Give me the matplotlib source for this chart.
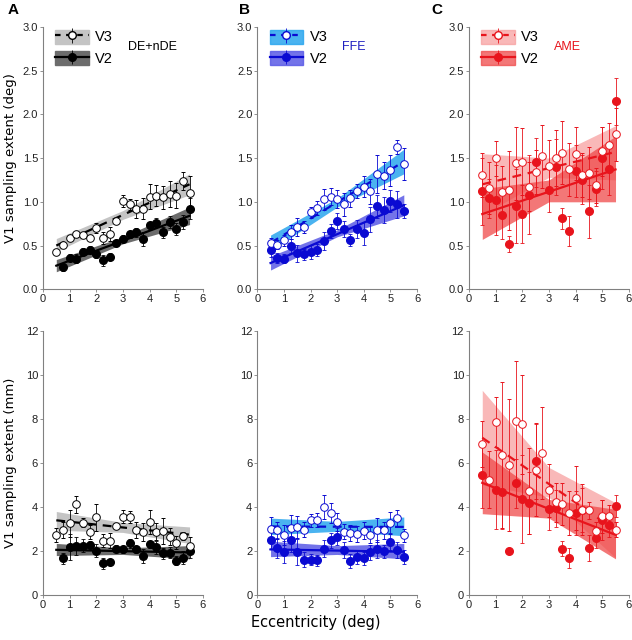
import numpy as np
import matplotlib
matplotlib.use('Agg')
import matplotlib.pyplot as plt
from matplotlib.patches import Patch
from matplotlib.legend_handler import HandlerTuple

plt.rcParams['font.family'] = ['Liberation Sans', 'DejaVu Sans']

ecc = np.arange(0.5, 5.51, 0.25)
nan = np.nan

# ---- top row: sampling extent in deg ----
a_top_v3 = [0.43, 0.51, 0.59, 0.63, 0.62, 0.59, 0.70, 0.59, 0.63, 0.78, 1.01, 0.97, 0.92, 0.92, 1.06, 1.07, 1.05, 1.09, 1.07, 1.24, 1.10]
a_top_v3_err = [0.03, 0.03, 0.03, 0.03, 0.03, 0.03, 0.06, 0.07, 0.08, 0.03, 0.07, 0.06, 0.10, 0.12, 0.14, 0.12, 0.13, 0.15, 0.14, 0.10, 0.20]
a_top_v2 = [nan, 0.25, 0.36, 0.35, 0.43, 0.45, 0.40, 0.33, 0.37, 0.53, 0.58, 0.63, 0.65, 0.57, 0.73, 0.76, 0.65, 0.77, 0.69, 0.77, 0.92]
a_top_v2_err = [0.04, 0.04, 0.04, 0.05, 0.04, 0.04, 0.04, 0.06, 0.04, 0.03, 0.04, 0.04, 0.05, 0.08, 0.04, 0.05, 0.06, 0.07, 0.07, 0.08, 0.12]

b_top_v3 = [0.53, 0.51, 0.56, 0.65, 0.71, 0.71, 0.88, 0.93, 1.03, 1.06, 1.03, 0.97, 1.04, 1.12, 1.17, 1.12, 1.32, 1.30, 1.36, 1.63, 1.43]
b_top_v3_err = [0.06, 0.05, 0.06, 0.08, 0.10, 0.07, 0.06, 0.08, 0.12, 0.10, 0.10, 0.13, 0.10, 0.08, 0.12, 0.14, 0.22, 0.15, 0.18, 0.08, 0.18]
b_top_v2 = [0.45, 0.36, 0.35, 0.49, 0.41, 0.40, 0.43, 0.45, 0.55, 0.67, 0.78, 0.69, 0.56, 0.69, 0.64, 0.80, 0.95, 0.91, 1.01, 0.97, 0.89]
b_top_v2_err = [0.08, 0.06, 0.05, 0.08, 0.10, 0.06, 0.08, 0.07, 0.10, 0.08, 0.09, 0.09, 0.07, 0.10, 0.13, 0.14, 0.13, 0.15, 0.13, 0.15, 0.08]

c_top_v3 = [1.31, 1.16, 1.50, 1.11, 1.13, 1.44, 1.46, 1.17, 1.34, 1.52, 1.41, 1.50, 1.56, 1.37, 1.55, 1.31, 1.33, 1.19, 1.58, 1.65, 1.77]
c_top_v3_err = [0.25, 0.30, 0.20, 0.30, 0.45, 0.42, 0.38, 0.28, 0.25, 0.36, 0.30, 0.32, 0.36, 0.30, 0.30, 0.25, 0.30, 0.20, 0.28, 0.25, 0.30]
c_top_v2 = [1.12, 1.04, 1.02, 0.85, 0.52, 0.95, 0.86, 1.08, 1.45, nan, 1.13, 1.40, 0.81, 0.67, 1.35, 1.25, 0.89, 1.15, 1.50, 1.38, 2.15]
c_top_v2_err = [0.38, 0.22, 0.40, 0.28, 0.09, 0.42, 0.33, 0.45, 0.28, 0.30, 0.25, 0.32, 0.12, 0.17, 0.30, 0.28, 0.30, 0.20, 0.35, 0.30, 0.27]

# fitted lines (value at ecc 0.5 and 5.5) and bands (lower/upper at 0.5, 3.0, 5.5)
band_x = [0.5, 3.0, 5.5]
a_top_fit = {'v3': (0.50, 1.20), 'v2': (0.27, 0.84)}
a_top_band_v3 = ([0.43, 0.80, 1.08], [0.58, 0.90, 1.32])
a_top_band_v2 = ([0.20, 0.52, 0.74], [0.34, 0.60, 0.94])
b_top_fit = {'v3': (0.53, 1.46), 'v2': (0.30, 0.96)}
b_top_band_v3 = ([0.44, 0.94, 1.32], [0.62, 1.04, 1.60])
b_top_band_v2 = ([0.22, 0.60, 0.84], [0.38, 0.68, 1.08])
c_top_fit = {'v3': (1.20, 1.57), 'v2': (0.86, 1.37)}
c_top_band_v3 = ([0.85, 1.28, 1.25], [1.55, 1.50, 1.87])
c_top_band_v2 = ([0.57, 1.00, 1.00], [1.15, 1.25, 1.75])

# ---- bottom row: sampling extent in mm ----
a_bot_v3 = [2.73, 2.96, 3.26, 4.12, 3.29, 2.87, 3.53, 2.48, 2.48, 3.14, 3.56, 3.55, 2.96, 2.87, 3.31, 2.89, 2.92, 2.66, 2.39, 2.69, 2.25]
a_bot_v3_err = [0.30, 0.35, 0.60, 0.40, 0.20, 0.30, 0.60, 0.30, 0.35, 0.15, 0.30, 0.25, 0.35, 0.40, 0.55, 0.40, 0.60, 0.40, 0.30, 0.20, 0.40]
a_bot_v2 = [nan, 1.68, 2.18, 2.24, 2.24, 2.27, 2.02, 1.45, 1.51, 2.11, 2.08, 2.36, 2.08, 1.78, 2.31, 2.18, 1.90, 1.93, 1.56, 1.71, 2.01]
a_bot_v2_err = [0.20, 0.25, 0.60, 0.40, 0.30, 0.20, 0.30, 0.25, 0.15, 0.15, 0.15, 0.20, 0.15, 0.30, 0.15, 0.30, 0.25, 0.25, 0.20, 0.30, 0.30]

b_bot_v3 = [3.00, 2.94, 2.72, 3.07, 3.10, 2.97, 3.40, 3.41, 4.02, 3.73, 3.31, 2.88, 2.82, 2.78, 2.93, 2.73, 2.97, 2.94, 3.26, 3.49, 2.72]
b_bot_v3_err = [0.55, 0.40, 0.45, 0.55, 0.50, 0.35, 0.30, 0.30, 0.55, 0.45, 0.40, 0.35, 0.35, 0.35, 0.40, 0.35, 0.55, 0.40, 0.50, 0.40, 0.30]
b_bot_v2 = [2.52, 2.14, 1.97, 2.52, 1.96, 1.62, 1.62, 1.59, 2.12, 2.49, 2.66, 2.05, 1.55, 1.73, 1.67, 1.94, 2.09, 2.00, 2.43, 2.06, 1.73]
b_bot_v2_err = [0.40, 0.45, 0.50, 0.55, 0.60, 0.35, 0.25, 0.25, 0.40, 0.35, 0.40, 0.35, 0.30, 0.30, 0.30, 0.35, 0.40, 0.30, 0.40, 0.35, 0.30]

c_bot_v3 = [6.88, 5.24, 7.86, 6.36, 5.91, 7.91, 7.76, 4.73, 5.70, 6.45, 4.77, 4.21, 4.15, 3.73, 4.42, 3.88, 3.85, 2.92, 3.58, 3.58, 2.97]
c_bot_v3_err = [1.05, 1.30, 1.15, 3.30, 3.00, 2.70, 2.25, 1.95, 2.10, 2.10, 1.20, 0.90, 0.95, 1.00, 1.45, 1.15, 0.40, 0.40, 0.75, 0.50, 0.35]
c_bot_v2 = [5.44, nan, 4.79, 4.70, 2.00, 5.08, 4.38, 4.18, 6.08, nan, 3.91, 3.94, 2.11, 1.68, 3.73, 3.85, 2.14, 2.61, 3.42, 3.18, 4.03]
c_bot_v2_err = [1.50, 1.30, 1.80, 1.70, 0.00, 1.10, 2.00, 1.40, 1.70, 1.50, 0.95, 0.85, 0.35, 0.45, 1.00, 1.00, 0.60, 0.45, 0.90, 0.55, 0.50]

a_bot_fit = {'v3': (3.40, 2.75), 'v2': (2.06, 1.94)}
a_bot_band_v3 = ([2.95, 2.85, 2.35], [3.80, 3.30, 3.10])
a_bot_band_v2 = ([1.80, 1.85, 1.65], [2.35, 2.15, 2.25])
b_bot_fit = {'v3': (3.12, 3.10), 'v2': (2.08, 1.97)}
b_bot_band_v3 = ([2.75, 2.90, 2.70], [3.50, 3.35, 3.55])
b_bot_band_v2 = ([1.75, 1.85, 1.65], [2.45, 2.25, 2.35])
c_bot_fit = {'v3': (7.15, 2.95), 'v2': (5.10, 2.74)}
c_bot_band_v3 = ([5.00, 4.45, 1.70], [9.30, 5.80, 4.20])
c_bot_band_v2 = ([3.70, 3.50, 1.65], [6.50, 4.35, 3.90])

conditions = ['DE+nDE', 'FFE', 'AME']
letters = ['A', 'B', 'C']
line_colors = ['#000000', '#0a0ad2', '#e8141c']
cond_colors = ['#000000', '#2020c0', '#e8141c']
band3_colors = ['#c4c4c4', '#2aa6ee', '#f7a0a0']
band2_colors = ['#6c6c6c', '#5a5ae6', '#ef4a4a']
band_alpha = [1.0, 0.85, 0.75]

top_data = [
    (a_top_v3, a_top_v3_err, a_top_v2, a_top_v2_err, a_top_fit, a_top_band_v3, a_top_band_v2),
    (b_top_v3, b_top_v3_err, b_top_v2, b_top_v2_err, b_top_fit, b_top_band_v3, b_top_band_v2),
    (c_top_v3, c_top_v3_err, c_top_v2, c_top_v2_err, c_top_fit, c_top_band_v3, c_top_band_v2),
]
bot_data = [
    (a_bot_v3, a_bot_v3_err, a_bot_v2, a_bot_v2_err, a_bot_fit, a_bot_band_v3, a_bot_band_v2),
    (b_bot_v3, b_bot_v3_err, b_bot_v2, b_bot_v2_err, b_bot_fit, b_bot_band_v3, b_bot_band_v2),
    (c_bot_v3, c_bot_v3_err, c_bot_v2, c_bot_v2_err, c_bot_fit, c_bot_band_v3, c_bot_band_v2),
]

fig = plt.figure(figsize=(6.32, 6.4), dpi=100)
lefts = [0.068, 0.407, 0.742]
width = 0.253
letter_x = [0.012, 0.378, 0.683]


def style_axes(ax, ymax, ystep, fmt):
    ax.set_xlim(0, 6)
    ax.set_ylim(0, ymax)
    ax.set_xticks(range(7))
    ax.set_yticks(np.arange(0, ymax + 0.001, ystep))
    ax.yaxis.set_major_formatter(matplotlib.ticker.FormatStrFormatter(fmt))
    for s in ['top', 'right']:
        ax.spines[s].set_visible(False)
    for s in ['left', 'bottom']:
        ax.spines[s].set_color('#808080')
        ax.spines[s].set_linewidth(0.8)
    ax.tick_params(direction='out', length=2, width=0.6, color='#808080',
                   labelsize=8, labelcolor='#222222', pad=1.5)


def draw(ax, i, data):
    v3, v3e, v2, v2e, fit, b3, b2 = data
    lc = line_colors[i]
    ax.fill_between(band_x, b3[0], b3[1], color=band3_colors[i], alpha=band_alpha[i], lw=0, zorder=1)
    ax.fill_between(band_x, b2[0], b2[1], color=band2_colors[i], alpha=band_alpha[i], lw=0, zorder=1.1)
    ax.plot([0.5, 5.5], fit['v3'], ls=(0, (4, 3)), color=lc, lw=1.6, zorder=2)
    ax.plot([0.5, 5.5], fit['v2'], ls='-', color=lc, lw=1.6, zorder=2)
    ax.errorbar(ecc, v2, yerr=v2e, fmt='o', ms=5.5, mfc=lc, mec=lc, ecolor=lc,
                elinewidth=0.6, capsize=1.2, capthick=0.6, zorder=3)
    ax.errorbar(ecc, v3, yerr=v3e, fmt='o', ms=5.5, mfc='white', mec=lc, mew=0.7, ecolor=lc,
                elinewidth=0.6, capsize=1.2, capthick=0.6, zorder=4)


for i in range(3):
    ax = fig.add_axes([lefts[i], 0.548, width, 0.41])
    draw(ax, i, top_data[i])
    style_axes(ax, 3.0, 0.5, '%.1f')
    lc = line_colors[i]
    # legend handles: band + line + marker with error bar
    h3 = (Patch(color=band3_colors[i], alpha=band_alpha[i]),
          matplotlib.lines.Line2D([], [], color=lc, ls=(0, (2.5, 2.5)), lw=1.6),
          ax.errorbar([], [], yerr=[], fmt='o', ms=5.5, mfc='white', mec=lc, ecolor=lc,
                      elinewidth=0.6, capsize=1.2))
    h2 = (Patch(color=band2_colors[i], alpha=band_alpha[i]),
          matplotlib.lines.Line2D([], [], color=lc, ls='-', lw=1.6),
          ax.errorbar([], [], yerr=[], fmt='o', ms=5.5, mfc=lc, mec=lc, ecolor=lc,
                      elinewidth=0.6, capsize=1.2))
    ax.legend([h3, h2], ['V3', 'V2'], handler_map={tuple: HandlerTuple(ndivide=1)},
              loc='upper left', bbox_to_anchor=(-0.005, 1.04), frameon=False, fontsize=10.5,
              handlelength=2.3, handleheight=1.1, handletextpad=0.45, labelspacing=0.45)
    ax.text(0.53, 0.925, conditions[i], transform=ax.transAxes, fontsize=9,
            color=cond_colors[i], ha='left', va='center')
    if i == 0:
        ax.set_ylabel('V1 sampling extent (deg)', family='DejaVu Sans', fontsize=9.5)
        ax.yaxis.set_label_coords(-0.165, 0.5)
    fig.text(letter_x[i], 0.995, letters[i], fontsize=11, fontweight='bold',
             ha='left', va='top')

for i in range(3):
    ax = fig.add_axes([lefts[i], 0.070, width, 0.413])
    draw(ax, i, bot_data[i])
    style_axes(ax, 12, 2, '%d')
    if i == 0:
        ax.set_ylabel('V1 sampling extent (mm)', family='DejaVu Sans', fontsize=9.5)
        ax.yaxis.set_label_coords(-0.165, 0.5)

fig.text(0.5, 0.028, 'Eccentricity (deg)', family='DejaVu Sans', fontsize=10.5,
         ha='center', va='center')

fig.savefig('out.png', dpi=100)
